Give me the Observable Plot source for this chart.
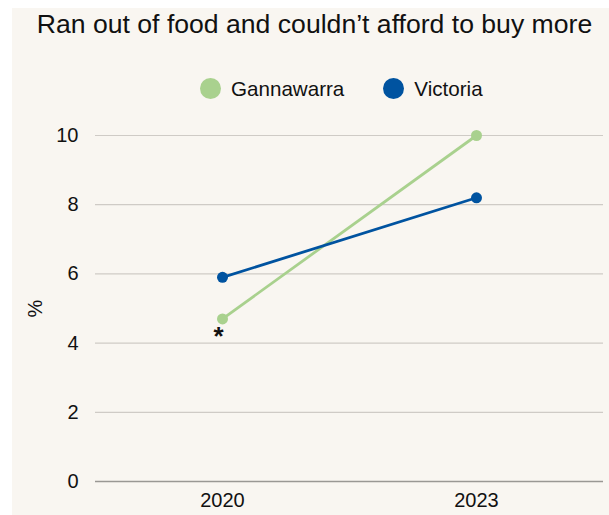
<!DOCTYPE html>
<html>
<head>
<meta charset="utf-8">
<script src="https://cdn.jsdelivr.net/npm/d3@7"></script>
<script src="https://cdn.jsdelivr.net/npm/@observablehq/plot@0.6"></script>
<style>
  html, body { margin: 0; padding: 0; background: #ffffff; }
  body { width: 609px; height: 515px; position: relative; overflow: hidden;
         font-family: "Liberation Sans", Arial, Helvetica, sans-serif; color: #111; }
  #bg { position: absolute; left: 12px; top: 8px; right: 0; bottom: 0; background: #f9f6f1; }
  #title { position: absolute; left: 12px; right: -8px; top: 11px; text-align: center;
           font-size: 26.6px; line-height: 26px; white-space: nowrap; }
  #legend { position: absolute; left: 200px; top: 78px; height: 21px; display: flex; align-items: center;
            font-size: 20.6px; line-height: 20px; }
  .sw { width: 21px; height: 21px; border-radius: 50%; margin-right: 10px; flex: none; }
  .item { display: flex; align-items: center; margin-right: 39px; }
  #chart { position: absolute; left: 0; top: 115px; }
</style>
</head>
<body>
<div id="bg"></div>
<div id="title">Ran out of food and couldn’t afford to buy more</div>
<div id="legend"></div>
<div id="chart"></div>
<script>
// Data
const years = ["2020", "2023"];
const seriesNames = ["Gannawarra", "Victoria"];
const gannawarraValues = [4.7, 10.0];
const victoriaValues = [5.9, 8.2];
const seriesColors = ["#a9d18e", "#0053a0"];
const yTicks = [0, 2, 4, 6, 8, 10];
const annotationYear = ["2020"];
const annotationValue = [4.7];
const annotationText = ["*"];

const rows = [];
years.forEach((y, i) => {
  rows.push({year: y, value: gannawarraValues[i], series: seriesNames[0]});
  rows.push({year: y, value: victoriaValues[i], series: seriesNames[1]});
});
const notes = annotationYear.map((y, i) => ({year: y, value: annotationValue[i], text: annotationText[i]}));

// Legend
const legend = document.getElementById("legend");
seriesNames.forEach((name, i) => {
  const item = document.createElement("div");
  item.className = "item";
  const sw = document.createElement("span");
  sw.className = "sw";
  sw.style.background = seriesColors[i];
  const lab = document.createElement("span");
  lab.textContent = name;
  item.appendChild(sw);
  item.appendChild(lab);
  legend.appendChild(item);
});

const chart = Plot.plot({
  width: 609,
  height: 400,
  marginTop: 20,
  marginBottom: 34,
  marginLeft: 95,
  marginRight: 6,
  style: {
    background: "transparent",
    fontSize: "20px",
    fontFamily: "'Liberation Sans', Arial, Helvetica, sans-serif",
    color: "#111"
  },
  x: {type: "point", domain: years, padding: 0.5},
  y: {domain: [0, 10]},
  color: {domain: seriesNames, range: seriesColors},
  marks: [
    Plot.gridY(yTicks, {stroke: "#cfcbc6", strokeOpacity: 1, strokeWidth: 1.2}),
    Plot.ruleY([0], {stroke: "#9a9894", strokeWidth: 1.5}),
    Plot.axisY(yTicks, {tickSize: 0, tickPadding: 17, label: "%", labelAnchor: "center",
                        labelArrow: "none", labelOffset: 68, fontSize: 20}),
    Plot.axisX({tickSize: 0, tickPadding: 11, label: null, fontSize: 20}),
    Plot.line(rows, {x: "year", y: "value", z: "series", stroke: "series", strokeWidth: 2.8}),
    Plot.dot(rows, {x: "year", y: "value", fill: "series", r: 5.5}),
    Plot.text(notes, {x: "year", y: "value", text: "text", dx: -4, dy: 18,
                      fontSize: 26, fontWeight: "bold", fill: "#111"})
  ]
});
document.getElementById("chart").appendChild(chart);
</script>
</body>
</html>
